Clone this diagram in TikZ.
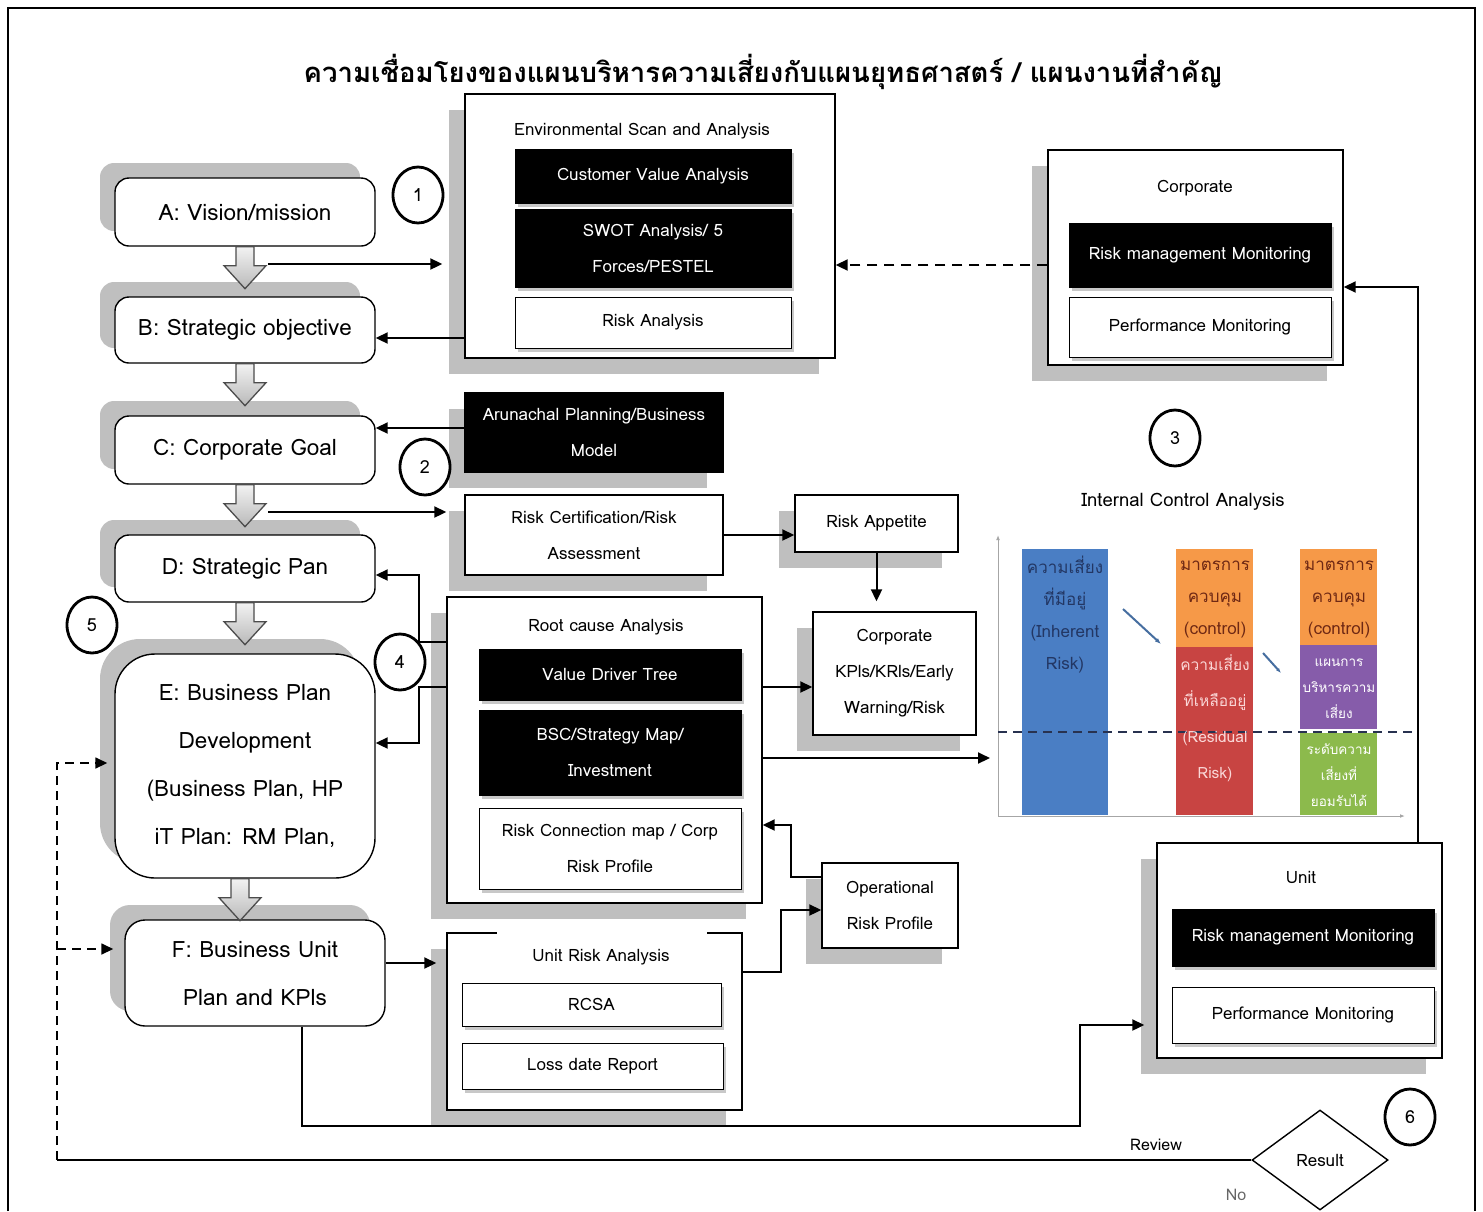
\documentclass[tikz,border=0pt]{standalone}
\usepackage{fontspec}
\setmainfont{Loma}[Script=Thai]
\usetikzlibrary{shapes.geometric,shadows,arrows.meta}
\definecolor{shd}{RGB}{191,191,191}
\definecolor{shdl}{RGB}{200,200,200}
\definecolor{barblue}{RGB}{74,126,196}
\definecolor{barorange}{RGB}{246,153,72}
\definecolor{barred}{RGB}{200,68,66}
\definecolor{barpurple}{RGB}{134,92,170}
\definecolor{bargreen}{RGB}{140,186,76}
\definecolor{txtblue}{RGB}{35,55,100}
\definecolor{txtorange}{RGB}{110,40,20}
\definecolor{txtred}{RGB}{250,215,215}
\definecolor{arrowblue}{RGB}{70,110,160}
\definecolor{dashnavy}{RGB}{40,50,80}
\begin{document}
\begin{tikzpicture}[x=1pt,y=-1pt,
 >={Triangle[length=12pt,width=11pt]},
 conn/.style={line width=2pt,->},
 rbox/.style={draw, line width=1.4pt, fill=white, rounded corners=14pt, minimum width=260pt, align=center, font=\fontsize{22.5}{48}\selectfont, drop shadow={shadow xshift=-15pt, shadow yshift=15pt, fill=shd, opacity=1}},
 obox/.style={draw, line width=1.4pt, fill=white, inner sep=0pt, drop shadow={shadow xshift=-16pt, shadow yshift=-16pt, fill=shd, opacity=1}},
 sbox/.style={obox, align=center, font=\fontsize{17}{36}\selectfont},
 ttl/.style={font=\fontsize{17}{20}\selectfont, inner sep=0pt},
 ibox/.style={draw, line width=1pt, fill=white, inner sep=0pt, align=center, font=\fontsize{17}{36}\selectfont, drop shadow={shadow xshift=3pt, shadow yshift=-4pt, fill=shdl, opacity=1}},
 kbox/.style={ibox, fill=black, text=white},
 num/.style={draw, ellipse, line width=2.8pt, minimum width=50pt, minimum height=56pt, inner sep=0pt, font=\fontsize{18}{20}\selectfont},
 bartxt/.style={align=center, inner sep=0pt, font=\fontsize{17}{32}\selectfont},
 blockarrow/.pic={\draw[draw=gray!60!black, line width=1.3pt, top color=gray!10, bottom color=gray!55] (-9,0) -- (9,0) -- (9,19) -- (21,19) -- (0,42) -- (-21,19) -- (-9,19) -- cycle;}
]
\useasboundingbox (0,0) rectangle (1483,1211);
\fill[white] (0,0) rectangle (1483,1211);
\draw[line width=1.5pt] (8,1211) -- (8,8) -- (1475,8) -- (1475,1211);

% title
\node[font=\bfseries\fontsize{27.5}{32}\selectfont] (title) at (763,72) {ความเชื่อมโยงของแผนบริหารความเสี่ยงกับแผนยุทธศาสตร์ / แผนงานที่สำคัญ};

% left column
\node[rbox, minimum height=68pt] (A) at (245,212) {A: Vision/mission};
\node[rbox, minimum height=66pt] (B) at (245,330) {B: Strategic objective};
\node[rbox, minimum height=68pt] (C) at (245,450) {C: Corporate Goal};
\node[rbox, minimum height=67pt] (D) at (245,568.5) {D: Strategic Pan};
\node[rbox, minimum height=224pt, rounded corners=40pt] (E) at (245,766) {E: Business Plan\\Development\\(Business Plan, HP\\iT Plan: RM Plan,};
\node[rbox, minimum height=106pt, rounded corners=20pt] (F) at (255,973) {F: Business Unit\\Plan and KPls};

\pic at (A.south) {blockarrow};
\pic at (B.south) {blockarrow};
\pic at (C.south) {blockarrow};
\pic at (D.south) {blockarrow};
\pic at ([xshift=-5pt]E.south) {blockarrow};

% environmental scan
\node[obox, minimum width=370pt, minimum height=264pt] (env) at (650,226) {};
\node[ttl] (envt) at (642,131) {Environmental Scan and Analysis};
\node[kbox, minimum width=276pt, minimum height=54pt] (cva) at (653,176) {Customer Value Analysis};
\node[kbox, minimum width=276pt, minimum height=78pt] (swot) at (653,248) {SWOT Analysis/ 5\\Forces/PESTEL};
\node[ibox, minimum width=276pt, minimum height=51pt] (ra) at (653,322.5) {Risk Analysis};

% corporate monitoring
\node[obox, minimum width=295pt, minimum height=215pt] (corp) at (1195.5,257.5) {};
\node[ttl] (corpt) at (1195,188) {Corporate};
\node[kbox, minimum width=262pt, minimum height=64pt] (crm) at (1200,255) {Risk management Monitoring};
\node[ibox, minimum width=262pt, minimum height=60pt] (cpm) at (1200,327) {Performance Monitoring};

% middle boxes
\node[sbox, minimum width=258pt, minimum height=79pt, fill=black, text=white] (arun) at (594,432.5) {Arunachal Planning/Business\\Model};
\node[sbox, minimum width=258pt, minimum height=80pt] (rc) at (594,535) {Risk Certification/Risk\\Assessment};
\node[sbox, minimum width=163pt, minimum height=57pt] (app) at (876.5,523.5) {Risk Appetite};
\node[sbox, minimum width=163pt, minimum height=123pt] (kpi) at (894.5,673.5) {Corporate\\KPls/KRls/Early\\Warning/Risk};

\node[obox, minimum width=315pt, minimum height=306pt] (root) at (604.5,750) {};
\node[ttl] (roott) at (606,627) {Root cause Analysis};
\node[kbox, minimum width=262pt, minimum height=51pt] (vdt) at (610,674.5) {Value Driver Tree};
\node[kbox, minimum width=262pt, minimum height=85pt] (bsc) at (610,752.5) {BSC/Strategy Map/\\Investment};
\node[ibox, minimum width=262pt, minimum height=81pt] (rcm) at (610,848.5) {Risk Connection map / Corp\\Risk Profile};

\node[sbox, minimum width=136pt, minimum height=85pt] (oper) at (890,905.5) {Operational\\Risk Profile};

\node[obox, minimum width=295pt, minimum height=177pt] (ura) at (594.5,1021.5) {};
\draw[white, line width=2pt] (497,933) -- (707,933);
\node[ttl] (urat) at (601,957) {Unit Risk Analysis};
\node[ibox, minimum width=259pt, minimum height=43pt] (rcsa) at (591.5,1004.5) {RCSA};
\node[ibox, minimum width=261pt, minimum height=46pt] (loss) at (592.5,1066) {Loss date Report};

% unit monitoring
\node[obox, minimum width=285pt, minimum height=215pt] (unit) at (1299.5,950.5) {};
\node[ttl] (unitt) at (1301,877) {Unit};
\node[kbox, minimum width=262pt, minimum height=57pt] (urm) at (1303,937.5) {Risk management Monitoring};
\node[ibox, minimum width=262pt, minimum height=56pt] (upm) at (1303,1015) {Performance Monitoring};

% decision
\node[draw, diamond, line width=1.4pt, minimum width=136pt, minimum height=100pt, inner sep=0pt, font=\fontsize{17}{20}\selectfont] (res) at (1320,1160) {Result};
\node[font=\fontsize{16}{18}\selectfont] (review) at (1156,1145) {Review};
\node[font=\fontsize{16}{18}\selectfont, text=gray!80!black] (no) at (1236,1195) {No};

% circles
\node[num] (c1) at (418,195) {1};
\node[num] (c2) at (425,467) {2};
\node[num] (c3) at (1175,438) {3};
\node[num] (c5) at (92,625) {5};
\node[num] (c6) at (1410,1117) {6};

% internal control chart
\node[font=\fontsize{18.5}{20}\selectfont] (ica) at (1183,502) {Internal Control Analysis};
\draw[gray!70, line width=1pt, -{Latex[length=5pt]}] (998,816) -- (998,535);
\draw[gray!70, line width=1pt, -{Latex[length=5pt]}] (998,816) -- (1405,816);
\fill[barblue] (1022,549) rectangle (1108,815);
\fill[barorange] (1176,549) rectangle (1253,647);
\fill[barred] (1176,647) rectangle (1253,815);
\fill[barorange] (1300,549) rectangle (1377,645);
\fill[barpurple] (1300,645) rectangle (1377,729);
\fill[bargreen] (1300,733) rectangle (1377,815);
\draw[dashnavy, line width=2pt, dash pattern=on 9pt off 6pt] (998,732) -- (1413,732);
\draw[arrowblue, line width=2pt, -{Latex[length=6pt]}] (1123,609) -- (1161,644);
\draw[arrowblue, line width=2pt, -{Latex[length=5pt]}] (1263,653) -- (1281,673);
\node[bartxt, text=txtblue] (tb) at (1065,615) {ความเสี่ยง\\ที่มีอยู่\\(Inherent\\Risk)};
\node[bartxt, text=txtorange] (to1) at (1215,600) {มาตรการ\\ควบคุม\\(control)};
\node[bartxt, text=txtorange] (to2) at (1339,600) {มาตรการ\\ควบคุม\\(control)};
\node[bartxt, text=txtred, font=\fontsize{15.5}{36}\selectfont] (tr) at (1215,718) {ความเสี่ยง\\ที่เหลืออยู่\\(Residual\\Risk)};
\node[bartxt, text=white, font=\fontsize{13.5}{26}\selectfont] (tp) at (1339,689) {แผนการ\\บริหารความ\\เสี่ยง};
\node[bartxt, text=white, font=\fontsize{13.5}{26}\selectfont] (tg) at (1339,775) {ระดับความ\\เสี่ยงที่\\ยอมรับได้};
\coordinate (chartL) at (990,758);

% connectors
\coordinate (abR) at (268,264);
\draw[conn] (abR) -- ([xshift=-22pt]abR -| env.west);
\coordinate (cdR) at (268,512);
\draw[conn] (cdR) -- ([xshift=-18pt]cdR -| rc.west);
\coordinate (bIn) at ([yshift=-8pt]B.east);
\draw[conn] (bIn -| env.west) -- (bIn);
\coordinate (envIn) at ([yshift=-39pt]env.east);
\draw[conn, dash pattern=on 10pt off 7pt] (envIn -| corp.west) -- (envIn);
\coordinate (uTop) at ([xshift=118.5pt]unit.north);
\coordinate (cIn) at ([yshift=-29.5pt]corp.east);
\draw[conn] (uTop) |- (cIn);
\coordinate (cgIn) at ([yshift=22pt]C.east);
\draw[conn] (cgIn -| arun.west) -- (cgIn);
\draw[conn] (rc.east) -- (rc.east -| app.west);
\draw[conn] (app.south) -- ([yshift=10pt]app.south |- kpi.north);
\coordinate (kIn) at ([yshift=-13.5pt]kpi.west);
\draw[conn] (kIn -| root.east) -- (kIn);
\draw[conn] (chartL -| root.east) -- (chartL);
\coordinate (rD) at ([yshift=108pt]root.west);
\coordinate (dIn) at ([yshift=-6.5pt]D.east);
\draw[conn] (rD) -- ++(-27,0) |- (dIn);
\coordinate (rE) at ([yshift=63pt]root.west);
\coordinate (eR) at ([yshift=23pt]E.east);
\draw[conn] (rE) -- ++(-27,0) |- (eR);
\coordinate (oOut) at ([yshift=28.5pt]oper.west);
\coordinate (rIn) at ([yshift=-75pt]root.east);
\draw[conn] (oOut) -- ++(-30,0) |- (rIn);
\coordinate (uOut) at ([yshift=49.5pt]ura.east);
\coordinate (oIn) at ([yshift=-4.5pt]oper.west);
\draw[conn] (uOut) -- ++(38,0) |- (oIn);
\coordinate (fOut) at ([yshift=10pt]F.east);
\draw[conn] (fOut) -- ([xshift=-10pt]fOut -| ura.west);
\coordinate (fBot) at ([xshift=47pt]F.south);
\coordinate (uIn) at ([yshift=-74.5pt, xshift=-12pt]unit.west);
\draw[conn] (fBot) -- ++(0,99) -- ++(778,0) |- (uIn);
\coordinate (fbk) at (57,1160);
\coordinate (eIn) at ([xshift=-7pt, yshift=3pt]E.west);
\coordinate (fIn) at ([xshift=-11pt, yshift=24pt]F.west);
\draw[line width=1.6pt] (res.west) -- (fbk);
\draw[conn, line width=1.6pt, dash pattern=on 9pt off 6pt] (fbk) |- (eIn);
\draw[conn, line width=1.6pt, dash pattern=on 9pt off 6pt] (fbk |- fIn) -- (fIn);

\node[num, fill=white] (c4) at (400,662) {4};
\end{tikzpicture}
\end{document}
